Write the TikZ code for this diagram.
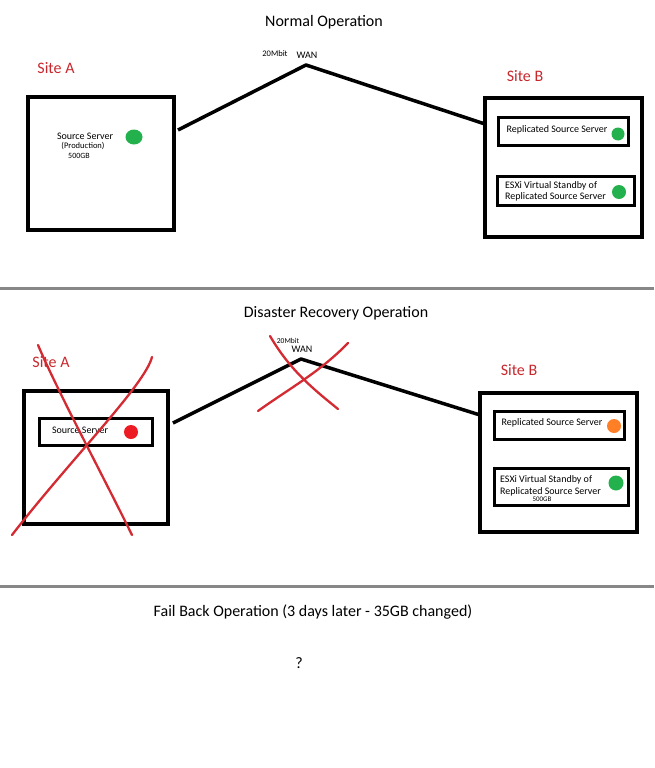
\documentclass[tikz,border=0pt]{standalone}
\usepackage{fontspec}
\setmainfont{Carlito}
\usetikzlibrary{shapes.geometric}
\definecolor{sitered}{RGB}{200,40,45}
\definecolor{xred}{RGB}{212,42,50}
\definecolor{dotgreen}{RGB}{34,177,76}
\definecolor{dotred}{RGB}{237,28,36}
\definecolor{dotorange}{RGB}{255,127,39}
\definecolor{sepgray}{RGB}{135,135,135}
\tikzset{
  heading/.style={font=\fontsize{16}{19}\selectfont, inner sep=0pt},
  sitelbl/.style={text=sitered, font=\fontsize{16}{19}\selectfont, inner sep=0pt},
  srvtxt/.style={font=\fontsize{10}{11.5}\selectfont, inner sep=0pt},
  tinytxt/.style={font=\fontsize{#1}{#1}\selectfont, inner sep=0pt},
  wantxt/.style={font=\fontsize{10}{12}\selectfont, inner sep=0pt},
  sitebox/.style={draw, line width=3.5pt, inner sep=0pt},
  srvbox/.style={draw, line width=3pt, inner sep=0pt},
  statusdot/.style={circle, inner sep=0pt, minimum size=14pt, fill=#1},
  wanline/.style={line width=3.5pt, line join=round},
  crossline/.style={draw=xred, line width=2.3pt, line cap=round},
  sepline/.style={draw=sepgray, line width=3pt}
}
\begin{document}
\begin{tikzpicture}[x=1pt,y=-1pt]
\useasboundingbox[fill=white] (0,0) rectangle (654,768);

% ---------- Section 1: Normal Operation ----------
\node[heading] (t1) at (324,22) {Normal Operation};
\node[tinytxt=8.5] (bw1) at (275,54) {20Mbit};
\node[wantxt] (wan1) at (307,55) {WAN};
\node[sitelbl] (sa1) at (56,68) {Site A};
\node[sitelbl] (sb1) at (525,76) {Site B};

\node[sitebox, minimum width=146pt, minimum height=133pt] (boxA1) at (101,163.5) {};
\node[srvtxt] (src1) at (85,136.5) {Source Server};
\node[tinytxt=8.5] (prod1) at (83,146) {(Production)};
\node[tinytxt=8] (gb1) at (79,155.5) {500GB};
\node[statusdot=dotgreen, ellipse, minimum width=17pt, minimum height=15pt] (d1) at (134,137) {};

\node[sitebox, minimum width=157pt, minimum height=139pt] (boxB1) at (563.5,167.5) {};
\node[srvbox, minimum width=130pt, minimum height=28pt] (rep1) at (563,131) {};
\node[srvtxt] (rept1) at (557,130) {Replicated Source Server};
\node[statusdot=dotgreen, minimum size=13pt] (d2) at (618,134) {};
\node[srvbox, minimum width=137pt, minimum height=29pt] (esx1) at (565.5,190.5) {};
\node[srvtxt, anchor=west, align=left] (esxt1) at (505,191.5) {ESXi Virtual Standby of\\Replicated Source Server};
\node[statusdot=dotgreen] (d3) at (619,192) {};

\coordinate (w1a) at (178,130);
\coordinate (w1p) at (306,65);
\coordinate (w1b) at (485,124);
\draw[wanline] (w1a) -- (w1p) -- (w1b);

\draw[sepline] (0,288) -- (654,288);

% ---------- Section 2: Disaster Recovery Operation ----------
\node[heading] (t2) at (336,313) {Disaster Recovery Operation};
\node[tinytxt=7.5] (bw2) at (288,341) {20Mbit};
\node[wantxt] (wan2) at (302,349) {WAN};
\node[sitelbl] (sa2) at (51,362) {Site A};
\node[sitelbl] (sb2) at (519,370) {Site B};

\node[sitebox, minimum width=144pt, minimum height=133pt] (boxA2) at (96,457.5) {};
\node[srvbox, minimum width=113pt, minimum height=27pt] (src2box) at (95.5,431.5) {};
\node[srvtxt] (src2) at (80,430) {Source Server};
\node[statusdot=dotred] (d4) at (131,432) {};

\node[sitebox, minimum width=157pt, minimum height=139pt] (boxB2) at (558.5,462.5) {};
\node[srvbox, minimum width=130pt, minimum height=28pt] (rep2) at (559,425) {};
\node[srvtxt] (rept2) at (552,423) {Replicated Source Server};
\node[statusdot=dotorange] (d5) at (614,426) {};
\node[srvbox, minimum width=134pt, minimum height=37pt] (esx2) at (561,486.5) {};
\node[font=\fontsize{10}{12}\selectfont, inner sep=0pt, anchor=west, align=left] (esxt2) at (500,486) {ESXi Virtual Standby of\\Replicated Source Server};
\node[tinytxt=7] (gb2) at (542,499.5) {500GB};
\node[statusdot=dotgreen, minimum size=15pt] (d6) at (616,483) {};

\coordinate (w2a) at (173,423);
\coordinate (w2p) at (301,359);
\coordinate (w2b) at (480,415);
\draw[wanline] (w2a) -- (w2p) -- (w2b);

% red crosses
\draw[crossline] (38,345) .. controls (58,392) and (100,470) .. (132,535);
\draw[crossline] (152,357) .. controls (145,385) and (70,460) .. (12,535);
\draw[crossline] (270,336) .. controls (290,370) and (312,388) .. (338,409);
\draw[crossline] (348,343) .. controls (320,372) and (290,388) .. (258,411);

\draw[sepline] (0,586) -- (654,586);

% ---------- Section 3: Fail Back ----------
\node[heading] (t3) at (313,612) {Fail Back Operation (3 days later - 35GB changed)};
\node[heading] (q) at (299,663) {?};
\end{tikzpicture}
\end{document}
